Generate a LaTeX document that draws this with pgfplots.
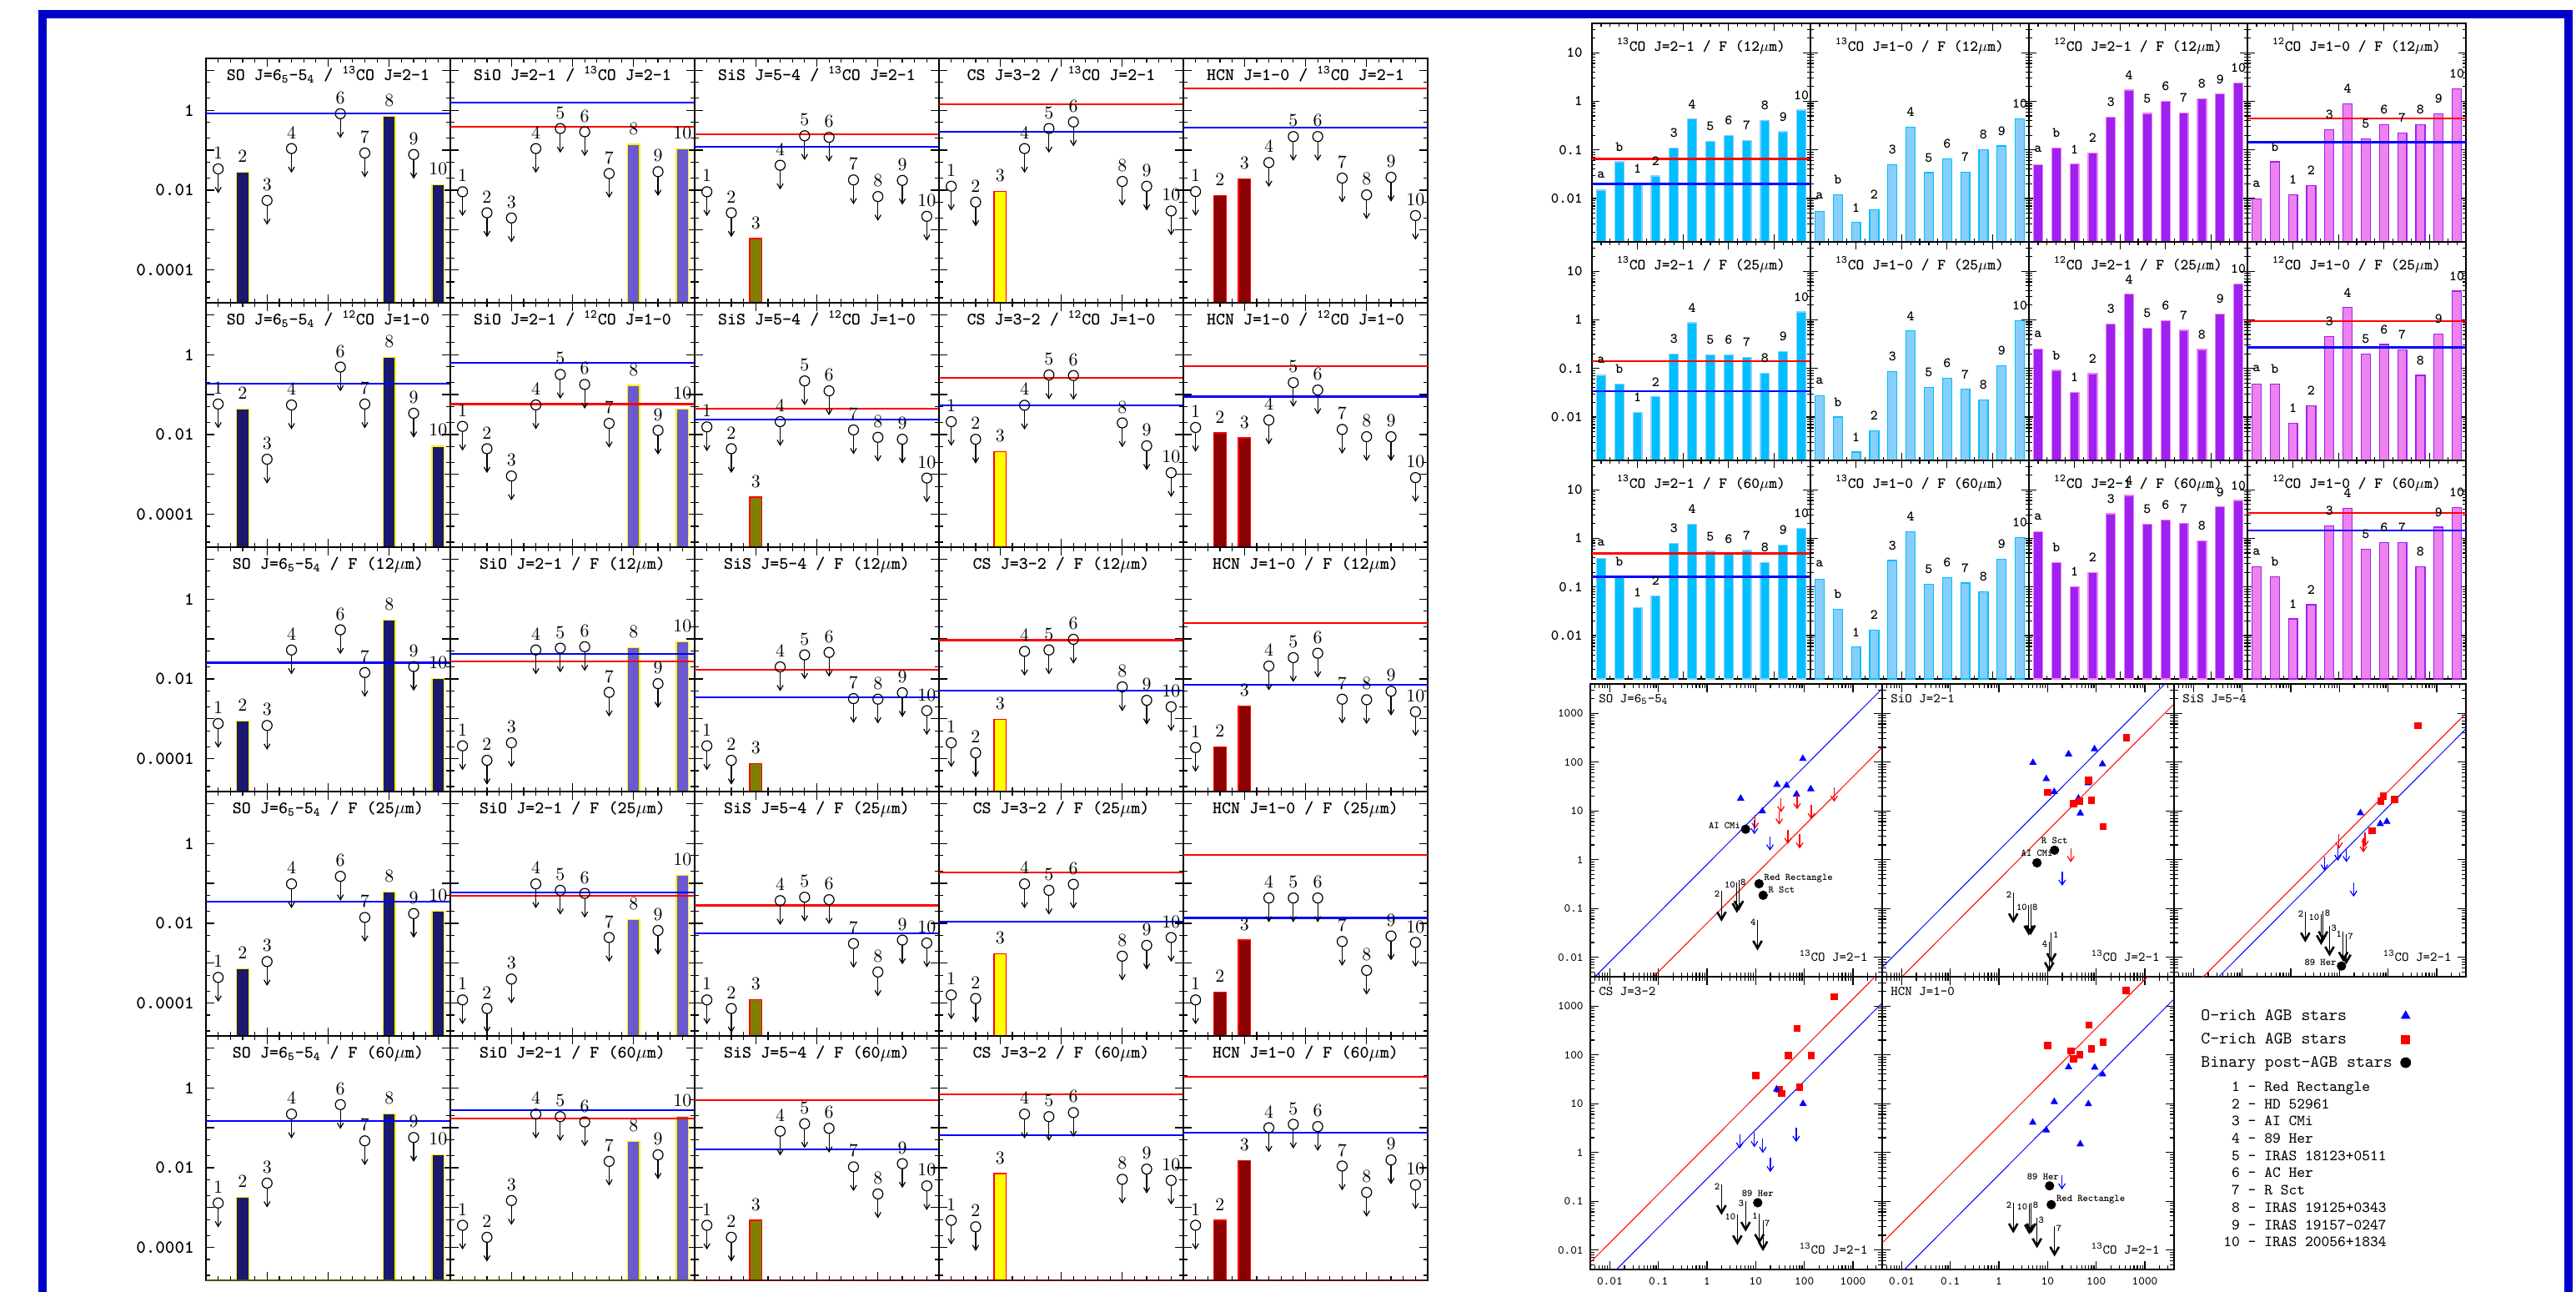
\documentclass[border=0pt]{standalone}
\usepackage{pgfplots}
\pgfplotsset{compat=1.18}

\definecolor{frameblue}{RGB}{0,0,200}
\definecolor{cSO}{RGB}{25,25,112}
\definecolor{cSiO}{RGB}{106,90,205}
\definecolor{cSiS}{RGB}{128,128,0}
\definecolor{cCS}{RGB}{255,255,0}
\definecolor{cHCN}{RGB}{139,0,0}
\definecolor{cDSB}{RGB}{0,191,255}
\definecolor{cLSB}{RGB}{135,206,250}
\definecolor{cPur}{RGB}{160,32,240}
\definecolor{cVio}{RGB}{238,130,238}
\definecolor{cBY}{RGB}{80,80,0}
\definecolor{cBR}{RGB}{90,10,10}

\newcommand\fT{\ttfamily\bfseries\fontsize{10.5}{12}\selectfont}
\newcommand\fTk{\ttfamily\bfseries\fontsize{11}{12}\selectfont}
\newcommand\fL{\ttfamily\bfseries\fontsize{10.5}{12}\selectfont}
\newcommand\fRT{\ttfamily\bfseries\fontsize{9.3}{11}\selectfont}
\newcommand\fRk{\ttfamily\bfseries\fontsize{9}{11}\selectfont}
\newcommand\fRl{\ttfamily\bfseries\fontsize{8.5}{10}\selectfont}
\newcommand\fS{\ttfamily\fontsize{8}{10}\selectfont}
\newcommand\fSk{\ttfamily\fontsize{7.2}{9}\selectfont}
\newcommand\fSs{\ttfamily\bfseries\fontsize{6}{7}\selectfont}
\newcommand\fLg{\ttfamily\fontsize{10.4}{12}\selectfont}
\newcommand\fLn{\ttfamily\fontsize{9.3}{11}\selectfont}

\newcommand\da{\textendash}
\newcommand\tSO{SO J=6\textsubscript{5}\da5\textsubscript{4}}
\newcommand\tSiO{SiO J=2\da1}
\newcommand\tSiS{SiS J=5\da4}
\newcommand\tCS{CS J=3\da2}
\newcommand\tHCN{HCN J=1\da0}
\newcommand\tCa{\textsuperscript{13}CO J=2\da1}
\newcommand\tCb{\textsuperscript{13}CO J=1\da0}
\newcommand\tCc{\textsuperscript{12}CO J=2\da1}
\newcommand\tCd{\textsuperscript{12}CO J=1\da0}
\newcommand\tF[1]{F (#1$\mu$m)}

\pgfdeclareplotmark{ulim}{%
  \pgfpathcircle{\pgfpointorigin}{3pt}\pgfusepathqstroke
  \pgfpathmoveto{\pgfpoint{0pt}{-3pt}}\pgfpathlineto{\pgfpoint{0pt}{-14pt}}\pgfusepathqstroke
  \pgfpathmoveto{\pgfpoint{-1.8pt}{-11pt}}\pgfpathlineto{\pgfpoint{0pt}{-14pt}}\pgfpathlineto{\pgfpoint{1.8pt}{-11pt}}\pgfusepathqstroke}
\pgfdeclareplotmark{darr}{%
  \pgfpathmoveto{\pgfpointorigin}\pgfpathlineto{\pgfpoint{0pt}{-8pt}}\pgfusepathqstroke
  \pgfpathmoveto{\pgfpoint{-2pt}{-5pt}}\pgfpathlineto{\pgfpoint{0pt}{-8pt}}\pgfpathlineto{\pgfpoint{2pt}{-5pt}}\pgfusepathqstroke}
\pgfdeclareplotmark{bdarr}{%
  \pgfpathmoveto{\pgfpointorigin}\pgfpathlineto{\pgfpoint{0pt}{-17pt}}\pgfusepathqstroke
  \begin{pgfscope}\pgfsetlinewidth{1.3pt}%
  \pgfpathmoveto{\pgfpoint{-2.6pt}{-12.5pt}}\pgfpathlineto{\pgfpoint{0pt}{-17pt}}\pgfpathlineto{\pgfpoint{2.6pt}{-12.5pt}}\pgfusepathqstroke
  \end{pgfscope}}

\tikzset{
  blbSO/.style={draw=cBY}, blbSiO/.style={draw=cBY},
  blbSiS/.style={draw=cBR}, blbCS/.style={draw=cBR}, blbHCN/.style={draw=cBR}}

\pgfplotsset{
  myBase/.style={scale only axis, tick align=inside, anchor=north west,
    axis line style={line width=0.8pt},
    every tick/.style={black, line width=0.6pt},
    every axis title/.style={at={(0.5,1)}, anchor=base, inner sep=0pt},
    xticklabels={}, yticklabels={}},
  myLP/.style={myBase, width=146.5pt, height=146.5pt, xmin=0.5, xmax=10.5,
    ymin=1.5e-5, ymax=20,
    xtick={0.5,3,5.5,8,10.5}, minor xtick={1,1.5,...,10},
    ytick={1e-4,1e-3,1e-2,0.1,1,10},
    minor ytick={2e-5,5e-5,2e-4,5e-4,2e-3,5e-3,0.02,0.05,0.2,0.5,2,5},
    major tick length=5pt, minor tick length=2.5pt,
    every axis title/.append style={yshift=-13.3pt, font=\fT}},
  myLPL/.style={myLP, yticklabels={0.0001,,0.01,,1,},
    yticklabel style={font=\fTk, inner sep=0pt, xshift=-7pt}},
  myLbar/.style={ybar, bar width=0.5, line width=0.6pt, nodes near coords, point meta=x,
    every node near coord/.append style={font=\fL, anchor=center, yshift=9.5pt, text=black, inner sep=0pt}},
  myLlim/.style={only marks, mark=ulim, black, line width=0.6pt, nodes near coords, point meta=x,
    every node near coord/.append style={font=\fL, anchor=center, yshift=9.5pt, text=black, inner sep=0pt}},
  bSO/.style={fill=cSO, draw=yellow},
  bSiO/.style={fill=cSiO, draw=yellow},
  bSiS/.style={fill=cSiS, draw=red},
  bCS/.style={fill=cCS, draw=red},
  bHCN/.style={fill=cHCN, draw=red},
  myRP/.style={myBase, width=131pt, height=131pt, xmin=0.5, xmax=12.5,
    ymin=1.28e-3, ymax=40,
    xtick={0.5,3,5.5,8,10.5}, minor xtick={1,1.5,...,12},
    ytick={0.01,0.1,1,10},
    minor ytick={0.002,0.003,0.004,0.005,0.006,0.007,0.008,0.009,0.02,0.03,0.04,0.05,0.06,0.07,0.08,0.09,0.2,0.3,0.4,0.5,0.6,0.7,0.8,0.9,2,3,4,5,6,7,8,9,20,30},
    major tick length=4.5pt, minor tick length=2.2pt,
    every axis title/.append style={yshift=-16.5pt, font=\fRT}},
  myRPL/.style={myRP, yticklabels={0.01,0.1,1,10},
    yticklabel style={font=\fRk, inner sep=0pt, xshift=-5.5pt}},
  myRbar/.style={ybar, bar width=0.5, line width=0.6pt, nodes near coords, point meta=explicit symbolic,
    every node near coord/.append style={font=\fRl, anchor=center, yshift=9pt, text=black, inner sep=0pt}},
  bC1/.style={fill=cDSB, draw=cLSB},
  bC2/.style={fill=cLSB, draw=cDSB},
  bC3/.style={fill=cPur, draw=cVio},
  bC4/.style={fill=cVio, draw=cPur},
  mySP/.style={myBase, width=175pt, height=175.5pt,
    xmin=0.00398, xmax=3981, ymin=0.00398, ymax=3981,
    xtick={0.01,0.1,1,10,100,1000}, ytick={0.01,0.1,1,10,100,1000},
    minor xtick={0.005,0.006,0.007,0.008,0.009,0.02,0.03,0.04,0.05,0.06,0.07,0.08,0.09,0.2,0.3,0.4,0.5,0.6,0.7,0.8,0.9,2,3,4,5,6,7,8,9,20,30,40,50,60,70,80,90,200,300,400,500,600,700,800,900,2000,3000},
    minor ytick={0.005,0.006,0.007,0.008,0.009,0.02,0.03,0.04,0.05,0.06,0.07,0.08,0.09,0.2,0.3,0.4,0.5,0.6,0.7,0.8,0.9,2,3,4,5,6,7,8,9,20,30,40,50,60,70,80,90,200,300,400,500,600,700,800,900,2000,3000},
    major tick length=5pt, minor tick length=2.5pt},
  mySPY/.style={yticklabels={0.01,0.1,1,10,100,1000}, yticklabel style={font=\fSk, inner sep=0pt, xshift=-4pt}},
  mySPX/.style={xticklabels={0.01,0.1,1,10,100,1000}, xticklabel style={font=\fSk, inner sep=0pt, yshift=-4.5pt}},
  stri/.style={only marks, mark=triangle*, blue, mark size=2.2pt},
  ssq/.style={only marks, mark=square*, red, mark size=1.9pt},
  sarr/.style={only marks, mark=darr, line width=0.6pt},
  sdot/.style={only marks, mark=*, black, mark size=2.6pt, nodes near coords, point meta=explicit symbolic,
    every node near coord/.append style={font=\fSs, inner sep=0pt, text=black}},
  dotl/.style={every node near coord/.append style={anchor=east, xshift=-3pt, yshift=2pt}},
  dotr/.style={every node near coord/.append style={anchor=west, xshift=3pt, yshift=3.2pt}},
  dota/.style={every node near coord/.append style={anchor=south, yshift=3.5pt}},
  dotal/.style={every node near coord/.append style={anchor=south, yshift=3.5pt, xshift=-4pt}},
  sbl/.style={only marks, mark=bdarr, black, line width=0.5pt, nodes near coords, point meta=explicit symbolic,
    every node near coord/.append style={font=\fSs, anchor=east, xshift=-0.8pt, yshift=-1.5pt, inner sep=0pt, text=black}},
  sbr/.style={only marks, mark=bdarr, black, line width=0.5pt, nodes near coords, point meta=explicit symbolic,
    every node near coord/.append style={font=\fSs, anchor=west, xshift=0.8pt, yshift=-1.5pt, inner sep=0pt, text=black}},
}

\newcommand\HL[2]{\addplot[#1, line width=1.1pt] coordinates {(-1,#2) (30,#2)};}
\newcommand\DL[2]{\addplot[#1, line width=0.5pt] coordinates {(1e-3,#2e-3) (1e4,#2e4)};}
\newcommand\LP[7]{%
  \begin{axis}[ymode=log, log origin y=infty, #1, at={(#2)}, anchor=north west, title={#3}]
  \addplot[myLbar, #4] coordinates {#5};
  \addplot[myLlim] coordinates {#6};
  #7
  \draw[bl#4, line width=1.4pt] (rel axis cs:0,0) -- (rel axis cs:1,0);
  \end{axis}}
\newcommand\RP[6]{%
  \begin{axis}[ymode=log, log origin y=infty, #1, at={(#2)}, anchor=north west, title={#3}]
  \addplot[myRbar, #4] coordinates {#5};
  #6
  \end{axis}}
\newcommand\SL[2]{%
  \node[anchor=base west, font=\fS, inner sep=0pt, xshift=5pt, yshift=-11.3pt] at (rel axis cs:0,1) {#1};
  \node[anchor=base east, font=\fS, inner sep=0pt, xshift=-8.5pt, yshift=9.3pt] at (rel axis cs:1,0) {#2};}

\begin{document}
\begin{tikzpicture}
\useasboundingbox (0,0) rectangle (1544.5pt,-774pt);
\draw[frameblue, line width=5pt] (25.5pt,-790pt) -- (25.5pt,-8.35pt) -- (1540pt,-8.35pt) -- (1540pt,-790pt);

% ---------------- left grid: row 1 (13CO J=2-1)
\LP{myLPL}{123.5pt,-35pt}{\tSO{} / \tCa}{bSO}{(2,0.028) (8,0.70) (10,0.0138)}{(1,0.034) (3,0.0055) (4,0.11) (6,0.82) (7,0.085) (9,0.078)}{\HL{blue}{0.82}}
\LP{myLP}{270pt,-35pt}{\tSiO{} / \tCa}{bSiO}{(8,0.14) (10,0.11)}{(1,0.0091) (2,0.0027) (3,0.002) (4,0.11) (5,0.35) (6,0.29) (7,0.026) (9,0.029)}{\HL{blue}{1.55}\HL{red}{0.39}}
\LP{myLP}{416.5pt,-35pt}{\tSiS{} / \tCa}{bSiS}{(3,6.1e-4)}{(1,0.0091) (2,0.0027) (4,0.042) (5,0.23) (6,0.21) (7,0.018) (8,0.0069) (9,0.0175) (10,0.0022)}{\HL{red}{0.25}\HL{blue}{0.12}}
\LP{myLP}{563pt,-35pt}{\tCS{} / \tCa}{bCS}{(3,0.0091)}{(1,0.0125) (2,0.005) (4,0.11) (5,0.35) (6,0.51) (8,0.0165) (9,0.0125) (10,0.003)}{\HL{red}{1.4}\HL{blue}{0.29}}
\LP{myLP}{709.5pt,-35pt}{\tHCN{} / \tCa}{bHCN}{(2,0.0074) (3,0.019)}{(1,0.0092) (4,0.049) (5,0.22) (6,0.22) (7,0.02) (8,0.0076) (9,0.021) (10,0.0023)}{\HL{red}{3.5}\HL{blue}{0.37}}
% ---------------- row 2 (12CO J=1-0)
\LP{myLPL}{123.5pt,-181.5pt}{\tSO{} / \tCd}{bSO}{(2,0.044) (8,0.85) (10,0.0051)}{(1,0.058) (3,0.0024) (4,0.055) (6,0.49) (7,0.058) (9,0.034)}{\HL{blue}{0.19}}
\LP{myLP}{270pt,-181.5pt}{\tSiO{} / \tCd}{bSiO}{(8,0.17) (10,0.044)}{(1,0.016) (2,0.0044) (3,9.1e-4) (4,0.055) (5,0.32) (6,0.18) (7,0.019) (9,0.0127)}{\HL{blue}{0.62}\HL{red}{0.058}}
\LP{myLP}{416.5pt,-181.5pt}{\tSiS{} / \tCd}{bSiS}{(3,2.7e-4)}{(1,0.0155) (2,0.0044) (4,0.021) (5,0.22) (6,0.124) (7,0.013) (8,0.0085) (9,0.0076) (10,8.1e-4)}{\HL{red}{0.044}\HL{blue}{0.024}}
\LP{myLP}{563pt,-181.5pt}{\tCS{} / \tCd}{bCS}{(3,0.0037)}{(1,0.021) (2,0.0076) (4,0.054) (5,0.31) (6,0.30) (8,0.0195) (9,0.0052) (10,0.0011)}{\HL{red}{0.26}\HL{blue}{0.054}}
\LP{myLP}{709.5pt,-181.5pt}{\tHCN{} / \tCd}{bHCN}{(2,0.011) (3,0.0082)}{(1,0.015) (4,0.023) (5,0.20) (6,0.13) (7,0.0134) (8,0.0088) (9,0.0088) (10,8.3e-4)}{\HL{red}{0.51}\HL{blue}{0.089}}
% ---------------- row 3 (F 12um)
\LP{myLPL}{123.5pt,-328pt}{\tSO{} / \tF{12}}{bSO}{(2,8.9e-4) (8,0.30) (10,0.0102)}{(1,7.6e-4) (3,6.8e-4) (4,0.053) (6,0.17) (7,0.0144) (9,0.0204)}{\HL{blue}{0.0255}}
\LP{myLP}{270pt,-328pt}{\tSiO{} / \tF{12}}{bSiO}{(8,0.061) (10,0.084)}{(1,2.1e-4) (2,9.1e-5) (3,2.5e-4) (4,0.053) (5,0.059) (6,0.064) (7,0.0046) (9,0.0076)}{\HL{blue}{0.042}\HL{red}{0.027}}
\LP{myLP}{416.5pt,-328pt}{\tSiS{} / \tF{12}}{bSiS}{(3,7.6e-5)}{(1,2.1e-4) (2,9.1e-5) (4,0.02) (5,0.04) (6,0.046) (7,0.0032) (8,0.0031) (9,0.0045) (10,0.0016)}{\HL{red}{0.0166}\HL{blue}{0.0035}}
\LP{myLP}{563pt,-328pt}{\tCS{} / \tF{12}}{bCS}{(3,9.8e-4)}{(1,2.5e-4) (2,1.4e-4) (4,0.049) (5,0.053) (6,0.098) (8,0.0063) (9,0.0029) (10,0.002)}{\HL{red}{0.093}\HL{blue}{0.0051}}
\LP{myLP}{709.5pt,-328pt}{\tHCN{} / \tF{12}}{bHCN}{(2,2.0e-4) (3,0.0021)}{(1,1.9e-4) (4,0.021) (5,0.034) (6,0.044) (7,0.0031) (8,0.003) (9,0.0049) (10,0.0015)}{\HL{red}{0.25}\HL{blue}{0.0071}}
% ---------------- row 4 (F 25um)
\LP{myLPL}{123.5pt,-474.5pt}{\tSO{} / \tF{25}}{bSO}{(2,7.1e-4) (8,0.061) (10,0.02)}{(1,4.4e-4) (3,0.0011) (4,0.097) (6,0.15) (7,0.014) (9,0.0175)}{\HL{blue}{0.035}}
\LP{myLP}{270pt,-474.5pt}{\tSiO{} / \tF{25}}{bSiO}{(8,0.0125) (10,0.16)}{(1,1.2e-4) (2,7.3e-5) (3,4.0e-4) (4,0.097) (5,0.067) (6,0.056) (7,0.0044) (9,0.0066)}{\HL{blue}{0.06}\HL{red}{0.049}}
\LP{myLP}{416.5pt,-474.5pt}{\tSiS{} / \tF{25}}{bSiS}{(3,1.2e-4)}{(1,1.2e-4) (2,7.3e-5) (4,0.037) (5,0.045) (6,0.039) (7,0.0031) (8,6.0e-4) (9,0.0038) (10,0.0032)}{\HL{red}{0.028}\HL{blue}{0.0055}}
\LP{myLP}{563pt,-474.5pt}{\tCS{} / \tF{25}}{bCS}{(3,0.0017)}{(1,1.6e-4) (2,1.3e-4) (4,0.097) (5,0.067) (6,0.095) (8,0.0015) (9,0.0028) (10,0.0044)}{\HL{red}{0.19}\HL{blue}{0.011}}
\LP{myLP}{709.5pt,-474.5pt}{\tHCN{} / \tF{25}}{bHCN}{(2,1.9e-4) (3,0.0038)}{(1,1.2e-4) (4,0.043) (5,0.043) (6,0.043) (7,0.0035) (8,6.6e-4) (9,0.0048) (10,0.0033)}{\HL{red}{0.51}\HL{blue}{0.0136}}
% ---------------- row 5 (F 60um)
\LP{myLPL}{123.5pt,-621pt}{\tSO{} / \tF{60}}{bSO}{(2,0.0018) (8,0.22) (10,0.021)}{(1,0.0013) (3,0.0041) (4,0.22) (6,0.38) (7,0.047) (9,0.057)}{\HL{blue}{0.147}}
\LP{myLP}{270pt,-621pt}{\tSiO{} / \tF{60}}{bSiO}{(8,0.046) (10,0.19)}{(1,3.6e-4) (2,1.8e-4) (3,0.0015) (4,0.22) (5,0.19) (6,0.14) (7,0.0144) (9,0.021)}{\HL{blue}{0.28}\HL{red}{0.17}}
\LP{myLP}{416.5pt,-621pt}{\tSiS{} / \tF{60}}{bSiS}{(3,4.8e-4)}{(1,3.6e-4) (2,1.8e-4) (4,0.082) (5,0.126) (6,0.097) (7,0.0105) (8,0.0022) (9,0.0126) (10,0.0035)}{\HL{red}{0.49}\HL{blue}{0.029}}
\LP{myLP}{563pt,-621pt}{\tCS{} / \tF{60}}{bCS}{(3,0.0071)}{(1,4.8e-4) (2,3.3e-4) (4,0.22) (5,0.19) (6,0.24) (8,0.0051) (9,0.0092) (10,0.0048)}{\HL{red}{0.70}\HL{blue}{0.065}}
\LP{myLP}{709.5pt,-621pt}{\tHCN{} / \tF{60}}{bHCN}{(2,4.8e-4) (3,0.015)}{(1,3.6e-4) (4,0.1) (5,0.122) (6,0.107) (7,0.011) (8,0.0024) (9,0.0156) (10,0.0037)}{\HL{red}{1.87}\HL{blue}{0.074}}

% ---------------- right grid
\RP{myRPL}{954.5pt,-14pt}{\tCa{} / \tF{12}}{bC1}{(1,0.0148)[a] (2,0.057)[b] (3,0.020)[1] (4,0.029)[2] (5,0.11)[3] (6,0.43)[4] (7,0.15)[5] (8,0.195)[6] (9,0.155)[7] (10,0.40)[8] (11,0.235)[9] (12,0.66)[10]}{\HL{red}{0.065}\HL{blue}{0.020}}
\RP{myRP}{1085.5pt,-14pt}{\tCb{} / \tF{12}}{bC2}{(1,0.0055)[a] (2,0.0118)[b] (3,0.0032)[1] (4,0.0059)[2] (5,0.0495)[3] (6,0.295)[4] (7,0.034)[5] (8,0.065)[6] (9,0.035)[7] (10,0.1)[8] (11,0.12)[9] (12,0.44)[10]}{}
\RP{myRP}{1216.5pt,-14pt}{\tCc{} / \tF{12}}{bC3}{(1,0.05)[a] (2,0.11)[b] (3,0.051)[1] (4,0.086)[2] (5,0.47)[3] (6,1.7)[4] (7,0.56)[5] (8,1.0)[6] (9,0.57)[7] (10,1.12)[8] (11,1.4)[9] (12,2.4)[10]}{}
\RP{myRP}{1347.5pt,-14pt}{\tCd{} / \tF{12}}{bC4}{(1,0.0098)[a] (2,0.057)[b] (3,0.012)[1] (4,0.0187)[2] (5,0.26)[3] (6,0.89)[4] (7,0.17)[5] (8,0.33)[6] (9,0.22)[7] (10,0.33)[8] (11,0.55)[9] (12,1.8)[10]}{\HL{red}{0.44}\HL{blue}{0.144}}

\RP{myRPL}{954.5pt,-145pt}{\tCa{} / \tF{25}}{bC1}{(1,0.072)[a] (2,0.047)[b] (3,0.0126)[1] (4,0.026)[2] (5,0.2)[3] (6,0.87)[4] (7,0.19)[5] (8,0.19)[6] (9,0.17)[7] (10,0.08)[8] (11,0.22)[9] (12,1.45)[10]}{\HL{red}{0.139}\HL{blue}{0.0335}}
\RP{myRP}{1085.5pt,-145pt}{\tCb{} / \tF{25}}{bC2}{(1,0.0275)[a] (2,0.01)[b] (3,0.0019)[1] (4,0.0052)[2] (5,0.087)[3] (6,0.59)[4] (7,0.041)[5] (8,0.063)[6] (9,0.037)[7] (10,0.0224)[8] (11,0.115)[9] (12,0.96)[10]}{}
\RP{myRP}{1216.5pt,-145pt}{\tCc{} / \tF{25}}{bC3}{(1,0.25)[a] (2,0.091)[b] (3,0.032)[1] (4,0.078)[2] (5,0.81)[3] (6,3.35)[4] (7,0.67)[5] (8,0.96)[6] (9,0.61)[7] (10,0.245)[8] (11,1.33)[9] (12,5.5)[10]}{}
\RP{myRP}{1347.5pt,-145pt}{\tCd{} / \tF{25}}{bC4}{(1,0.048)[a] (2,0.047)[b] (3,0.0074)[1] (4,0.017)[2] (5,0.45)[3] (6,1.78)[4] (7,0.2)[5] (8,0.31)[6] (9,0.24)[7] (10,0.072)[8] (11,0.51)[9] (12,3.9)[10]}{\HL{red}{0.95}\HL{blue}{0.27}}

\RP{myRPL}{954.5pt,-276pt}{\tCa{} / \tF{60}}{bC1}{(1,0.39)[a] (2,0.162)[b] (3,0.038)[1] (4,0.066)[2] (5,0.78)[3] (6,1.95)[4] (7,0.54)[5] (8,0.47)[6] (9,0.56)[7] (10,0.315)[8] (11,0.72)[9] (12,1.6)[10]}{\HL{red}{0.49}\HL{blue}{0.162}}
\RP{myRP}{1085.5pt,-276pt}{\tCb{} / \tF{60}}{bC2}{(1,0.146)[a] (2,0.035)[b] (3,0.0058)[1] (4,0.013)[2] (5,0.35)[3] (6,1.38)[4] (7,0.115)[5] (8,0.158)[6] (9,0.12)[7] (10,0.079)[8] (11,0.37)[9] (12,1.05)[10]}{}
\RP{myRP}{1216.5pt,-276pt}{\tCc{} / \tF{60}}{bC3}{(1,1.35)[a] (2,0.315)[b] (3,0.1)[1] (4,0.2)[2] (5,3.2)[3] (6,7.6)[4] (7,1.92)[5] (8,2.4)[6] (9,2.0)[7] (10,0.89)[8] (11,4.4)[9] (12,6.0)[10]}{}
\RP{myRP}{1347.5pt,-276pt}{\tCd{} / \tF{60}}{bC4}{(1,0.26)[a] (2,0.162)[b] (3,0.022)[1] (4,0.043)[2] (5,1.82)[3] (6,4.1)[4] (7,0.6)[5] (8,0.81)[6] (9,0.81)[7] (10,0.26)[8] (11,1.7)[9] (12,4.3)[10]}{\HL{red}{3.3}\HL{blue}{1.46}}

% ---------------- scatter panels
\begin{axis}[xmode=log, ymode=log, mySP, mySPY, at={(953.5pt,-410pt)}, anchor=north west]
\DL{blue}{0.8}\DL{red}{0.05}
\addplot[stri] coordinates {(4.9,17.9) (13.7,9.8) (27.4,34.4) (43,33) (69,21.8) (93,117) (135,28)};
\addplot[sarr, red] coordinates {(9.7,8.4) (33,18.3) (30.5,10.2) (71,21) (139,13.2) (46,4.1) (80,3.3) (409,30)};
\addplot[sarr, blue] coordinates {(9.4,6.5) (19.7,3.0)};
\addplot[sdot, dotl] coordinates {(6.2,4.2)[AI CMi]};
\addplot[sdot, dotr] coordinates {(11.7,0.32)[Red Rectangle] (14.2,0.186)[R Sct]};
\addplot[sbl] coordinates {(1.98,0.227)[2] (4.1,0.34)[10] (10.9,0.058)[4]};
\addplot[sbr] coordinates {(4.5,0.38)[8]};
\SL{\tSO}{\tCa}
\end{axis}

\begin{axis}[xmode=log, ymode=log, mySP, at={(1128.5pt,-410pt)}, anchor=north west]
\DL{blue}{1.55}\DL{red}{0.39}
\addplot[stri] coordinates {(5,97) (9.4,45) (13.7,24.5) (27,145) (43,18) (47,8.9) (92,185) (134,91) (68,37)};
\addplot[ssq] coordinates {(10,24) (34,14.2) (46,15.7) (416,316) (70,42) (79,16.3) (138,4.8)};
\addplot[sarr, red] coordinates {(30,1.73)};
\addplot[sarr, blue] coordinates {(20,0.57)};
\addplot[sdot, dota] coordinates {(6.05,0.86)[AI CMi] (13.9,1.56)[R Sct]};
\addplot[sbl] coordinates {(1.97,0.21)[2] (4.1,0.118)[10] (10.8,0.021)[4]};
\addplot[sbr] coordinates {(4.5,0.12)[8] (12,0.032)[1]};
\SL{\tSiO}{\tCa}
\end{axis}

\begin{axis}[xmode=log, ymode=log, mySP, at={(1303.5pt,-410pt)}, anchor=north west]
\DL{red}{0.25}\DL{blue}{0.12}
\addplot[ssq] coordinates {(414,556) (71,16) (79,20) (137,17) (47,3.9)};
\addplot[stri] coordinates {(27,9) (69,5.4) (94,6)};
\addplot[sarr, red] coordinates {(9.8,3.3) (33.5,3.6) (31,2.75)};
\addplot[sarr, blue] coordinates {(4.9,1.17) (9.3,1.85) (13.9,1.73) (19.5,0.34)};
\addplot[sdot, dotl] coordinates {(11,0.0066)[89 Her]};
\addplot[sbl] coordinates {(1.98,0.085)[2] (4.2,0.075)[10] (12,0.034)[1]};
\addplot[sbr] coordinates {(4.6,0.09)[8] (6.25,0.044)[3] (13.8,0.03)[7]};
\SL{\tSiS}{\tCa}
\end{axis}

\begin{axis}[xmode=log, ymode=log, mySP, mySPY, mySPX, at={(953.5pt,-585.5pt)}, anchor=north west]
\DL{red}{1.4}\DL{blue}{0.29}
\addplot[ssq] coordinates {(409,1550) (71,351) (47,97) (139,96) (9.9,38) (30.5,19.6) (34,16.3) (80,21.8)};
\addplot[stri] coordinates {(27,19.6) (94,9.9)};
\addplot[sarr, blue] coordinates {(4.7,2.35) (9.4,2.5) (14,1.9) (20,0.77) (68,3.2)};
\addplot[sdot, dota] coordinates {(11,0.093)[89 Her]};
\addplot[sbl] coordinates {(1.98,0.22)[2] (4.2,0.053)[10] (6.2,0.1)[3] (11.9,0.056)[1]};
\addplot[sbr] coordinates {(14.1,0.04)[7]};
\SL{\tCS}{\tCa}
\end{axis}

\begin{axis}[xmode=log, ymode=log, mySP, mySPX, at={(1128.5pt,-585.5pt)}, anchor=north west]
\DL{red}{3.5}\DL{blue}{0.35}
\addplot[ssq] coordinates {(10,156) (30,120) (34,83) (46,100) (71,407) (411,2080) (79,133) (138,183)};
\addplot[stri] coordinates {(4.95,4.1) (9.4,2.85) (13.7,10.9) (27,56) (47,1.48) (93,55) (135,40) (69,9.8)};
\addplot[sarr, blue] coordinates {(19.7,0.34)};
\addplot[sdot, dotal] coordinates {(11,0.206)[89 Her]};
\addplot[sdot, dotr] coordinates {(11.9,0.085)[Red Rectangle]};
\addplot[sbl] coordinates {(1.97,0.093)[2] (4.2,0.088)[10]};
\addplot[sbr] coordinates {(4.6,0.093)[8] (6.05,0.046)[3] (13.9,0.031)[7]};
\SL{\tHCN}{\tCa}
\end{axis}

% ---------------- legend
\begin{axis}[hide axis, scale only axis, width=1pt, height=1pt, xmin=0, xmax=1, ymin=0, ymax=1,
  at={(1319.5pt,-604.3pt)}, anchor=north west,
  legend plot pos=right, legend cell align=left,
  legend image code/.code={\draw[#1, mark repeat=1] plot coordinates {(0.2cm,0cm)};},
  legend style={at={(0,1)}, anchor=north west, draw=none, fill=none, font=\fLg,
    inner sep=0pt, row sep=5pt, column sep=5pt,
    nodes={inner sep=0pt, text height=7pt, text depth=2pt}}]
\addlegendimage{only marks, mark=triangle*, blue, mark size=3pt}
\addlegendentry{O-rich AGB stars}
\addlegendimage{only marks, mark=square*, red, mark size=2.5pt}
\addlegendentry{C-rich AGB stars}
\addlegendimage{only marks, mark=*, black, mark size=3pt}
\addlegendentry{Binary post-AGB stars}
\end{axis}

\begin{scope}[every node/.style={anchor=base west, font=\fLn, inner sep=0pt}]
\node at (1333pt,-654.2pt) {\phantom{0}1 \da{} Red Rectangle};
\node at (1333pt,-664.55pt) {\phantom{0}2 \da{} HD 52961};
\node at (1333pt,-674.9pt) {\phantom{0}3 \da{} AI CMi};
\node at (1333pt,-685.25pt) {\phantom{0}4 \da{} 89 Her};
\node at (1333pt,-695.6pt) {\phantom{0}5 \da{} IRAS 18123+0511};
\node at (1333pt,-705.95pt) {\phantom{0}6 \da{} AC Her};
\node at (1333pt,-716.3pt) {\phantom{0}7 \da{} R Sct};
\node at (1333pt,-726.65pt) {\phantom{0}8 \da{} IRAS 19125+0343};
\node at (1333pt,-737pt) {\phantom{0}9 \da{} IRAS 19157\da0247};
\node at (1333pt,-747.35pt) {10 \da{} IRAS 20056+1834};
\end{scope}
\end{tikzpicture}
\end{document}
